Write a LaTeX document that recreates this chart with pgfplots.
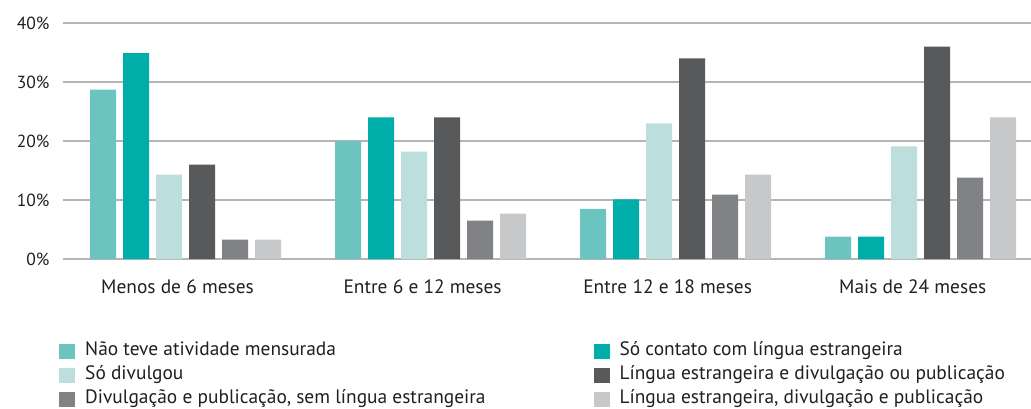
\documentclass[border=0pt]{standalone}
\usepackage{pgfplots}
\pgfplotsset{compat=1.18}
\usepackage{fontspec}
\setmainfont{PT Sans}

\definecolor{cA}{HTML}{6CC4C0}
\definecolor{cB}{HTML}{00AEA9}
\definecolor{cC}{HTML}{BCDFDD}
\definecolor{cD}{HTML}{58595B}
\definecolor{cE}{HTML}{808285}
\definecolor{cF}{HTML}{C7C8CA}
\definecolor{gridc}{HTML}{B5B5B5}
\definecolor{txt}{HTML}{231F20}

\begin{document}
\begin{tikzpicture}
\path[use as bounding box] (-63pt,-149pt) rectangle (968pt,259pt);
\begin{axis}[
    at={(0pt,0pt)}, anchor=south west,
    scale only axis,
    width=968pt, height=236pt,
    ybar=7pt, bar width=26pt,
    xmin=-0.5, xmax=3.45,
    ymin=0, ymax=40,
    xtick={0,1,2,3},
    xticklabels={Menos de 6 meses, Entre 6 e 12 meses, Entre 12 e 18 meses, Mais de 24 meses},
    ytick={0,10,20,30,40},
    yticklabel={\pgfmathprintnumber{\tick}\%},
    /pgf/number format/assume math mode=true,
    ymajorgrids,
    grid style={gridc, line width=1.4pt},
    axis line style={draw=none},
    major tick length=0pt,
    tick label style={font=\fontsize{17.5}{20}\selectfont, text=txt},
    x tick label style={font=\fontsize{19.4}{22}\selectfont, yshift=-17pt, xshift=-8pt},
    y tick label style={xshift=-10pt},
    legend columns=2,
    legend cell align=left,
    legend style={
        at={(axis description cs:0,0)}, anchor=north west,
        xshift=-4pt, yshift=-83pt,
        draw=none, inner sep=0pt,
        font=\fontsize{19.4}{22}\selectfont,
        text=txt,
        nodes={text height=13pt, text depth=4pt, inner sep=0pt},
        /tikz/every odd column/.append style={column sep=10pt},
        /tikz/column 2/.style={column sep=108pt},
        row sep=7pt,
    },
    legend image code/.code={\fill[#1] (0pt,-8pt) rectangle (16pt,7pt);},
]
\addplot[fill=cA, draw=none] coordinates {(0,28.7) (1,20.0) (2,8.5) (3,3.8)};
\addplot[fill=cB, draw=none] coordinates {(0,34.9) (1,24.0) (2,10.1) (3,3.8)};
\addplot[fill=cC, draw=none] coordinates {(0,14.3) (1,18.2) (2,23.0) (3,19.1)};
\addplot[fill=cD, draw=none] coordinates {(0,16.0) (1,24.0) (2,34.0) (3,36.0)};
\addplot[fill=cE, draw=none] coordinates {(0,3.3) (1,6.5) (2,10.9) (3,13.8)};
\addplot[fill=cF, draw=none] coordinates {(0,3.3) (1,7.7) (2,14.3) (3,24.0)};
\legend{Não teve atividade mensurada, Só contato com língua estrangeira,
        Só divulgou, Língua estrangeira e divulgação ou publicação,
        {Divulgação e publicação, sem língua estrangeira}, {Língua estrangeira, divulgação e publicação}}
\end{axis}
\end{tikzpicture}
\end{document}
